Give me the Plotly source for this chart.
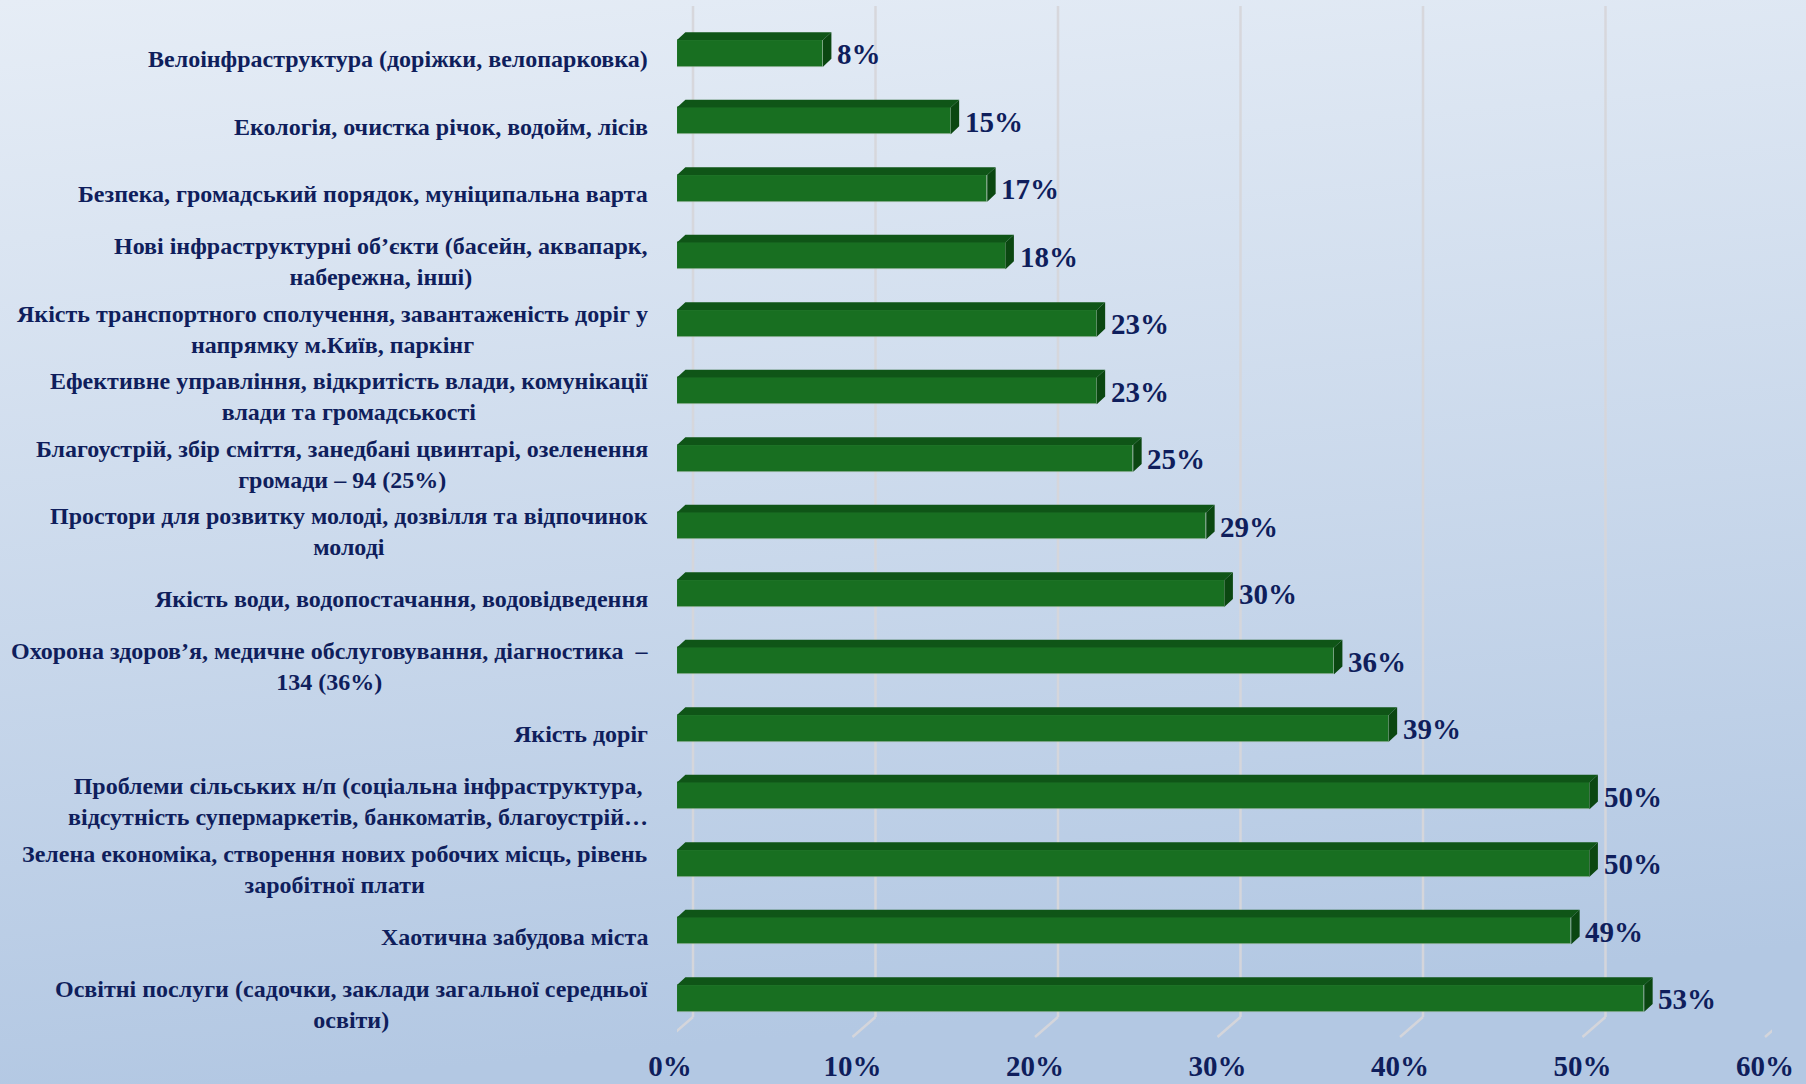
import base64
import plotly.graph_objects as go

categories = [
    "Велоінфраструктура (доріжки, велопарковка)",
    "Екологія, очистка річок, водойм, лісів",
    "Безпека, громадський порядок, муніципальна варта",
    "Нові інфраструктурні об’єкти (басейн, аквапарк,<br>набережна, інші)",
    "Якість транспортного сполучення, завантаженість доріг у<br>напрямку м.Київ, паркінг",
    "Ефективне управління, відкритість влади, комунікації<br>влади та громадськості",
    "Благоустрій, збір сміття, занедбані цвинтарі, озеленення<br>громади – 94 (25%)",
    "Простори для розвитку молоді, дозвілля та відпочинок<br>молоді",
    "Якість води, водопостачання, водовідведення",
    "Охорона здоров’я, медичне обслуговування, діагностика  –<br>134 (36%)",
    "Якість доріг",
    "Проблеми сільських н/п (соціальна інфраструктура,<br>відсутність супермаркетів, банкоматів, благоустрій…",
    "Зелена економіка, створення нових робочих місць, рівень<br>заробітної плати",
    "Хаотична забудова міста",
    "Освітні послуги (садочки, заклади загальної середньої<br>освіти)",
]
values = [8, 15, 17, 18, 23, 23, 25, 29, 30, 36, 39, 50, 50, 49, 53]
tick_values = [0, 10, 20, 30, 40, 50, 60]
tick_labels = ["0%", "10%", "20%", "30%", "40%", "50%", "60%"]

NAVY = "#0F1E5C"
FRONT = "#186F21"
TOP = "#0F5517"
SIDE = "#0B4711"
FONT = "Liberation Serif"

idx = list(range(len(categories)))
bar_w = 0.395
dx = 0.46     # 3D depth offset in x units
dy = 0.115    # 3D depth offset in category units

fig = go.Figure()
fig.add_trace(go.Bar(
    x=values, y=idx, orientation="h", width=bar_w,
    marker=dict(color=FRONT, line=dict(color="rgba(140,170,140,0.7)", width=0.8)),
    hoverinfo="skip", showlegend=False,
))

tx, ty, sx, sy = [], [], [], []
for i, v in zip(idx, values):
    yt = i - bar_w / 2
    yb = i + bar_w / 2
    tx += [0, v, v + dx, dx, 0, None]
    ty += [yt, yt, yt - dy, yt - dy, yt, None]
    sx += [v, v + dx, v + dx, v, v, None]
    sy += [yt, yt - dy, yb - dy, yb, yt, None]
fig.add_trace(go.Scatter(x=tx, y=ty, mode="lines", fill="toself", fillcolor=TOP,
                         line=dict(width=0, color=TOP), hoverinfo="skip", showlegend=False))
fig.add_trace(go.Scatter(x=sx, y=sy, mode="lines", fill="toself", fillcolor=SIDE,
                         line=dict(width=0, color=SIDE), hoverinfo="skip", showlegend=False))

annotations = []
for i, (c, v) in enumerate(zip(categories, values)):
    annotations.append(dict(
        x=0, xref="paper", y=i, yref="y", xanchor="right", yanchor="middle",
        xshift=-27, yshift=-6, text=c, align="center", showarrow=False,
        font=dict(family=FONT, size=24, color=NAVY, weight="bold"),
    ))
    annotations.append(dict(
        x=v, xref="x", y=i, yref="y", xanchor="left", yanchor="middle",
        xshift=12, yshift=-1, text=f"{v}%", showarrow=False,
        font=dict(family=FONT, size=29, color=NAVY, weight="bold"),
    ))

shapes = []
for t in tick_values:
    shapes.append(dict(type="line", xref="x", yref="paper", xsizemode="pixel", ysizemode="pixel",
                       xanchor=t, yanchor=0, x0=16, x1=16, y0=20, y1=1031,
                       line=dict(color="rgba(214,214,218,0.95)", width=2.5), layer="below"))
    shapes.append(dict(type="line", xref="x", yref="paper", xsizemode="pixel", ysizemode="pixel",
                       xanchor=t, yanchor=0, x0=16, x1=-7, y0=20, y1=0,
                       line=dict(color="rgba(214,214,218,0.95)", width=2.5), layer="below"))

svg = ('<svg xmlns="http://www.w3.org/2000/svg" width="1806" height="1084" preserveAspectRatio="none">'
       '<defs><linearGradient id="g" x1="0" y1="0" x2="0.15" y2="1">'
       '<stop offset="0" stop-color="#E6EDF6"/><stop offset="1" stop-color="#B3C8E3"/>'
       '</linearGradient></defs><rect width="1806" height="1084" fill="url(#g)"/></svg>')
src = "data:image/svg+xml;base64," + base64.b64encode(svg.encode()).decode()

W, H = 1806, 1084
L, R, T, B = 677, 34, 6, 47
pw, ph = W - L - R, H - T - B

fig.update_layout(
    width=W, height=H, autosize=False,
    margin=dict(l=L, r=R, t=T, b=B, pad=0),
    paper_bgcolor="#CCD9EC", plot_bgcolor="rgba(0,0,0,0)",
    bargap=0,
    xaxis=dict(range=[0, 60], tickvals=tick_values, ticktext=tick_labels,
               showgrid=False, zeroline=False, showline=False, ticks="",
               ticklabelshift=-7, ticklabelstandoff=9, automargin=False,
               tickfont=dict(family=FONT, size=29, color=NAVY, weight="bold"),
               fixedrange=True),
    yaxis=dict(range=[14.573, -0.7007], showticklabels=False, showgrid=False,
               zeroline=False, showline=False, fixedrange=True, automargin=False),
    annotations=annotations,
    shapes=shapes,
    images=[dict(source=src, xref="paper", yref="paper", x=-L / pw, y=1 + T / ph,
                 sizex=W / pw, sizey=H / ph, sizing="stretch", layer="below",
                 xanchor="left", yanchor="top")],
)

fig.write_html("out.html", config={"displayModeBar": False},
               post_script="document.body.style.margin='0';document.body.style.overflow='hidden';")
